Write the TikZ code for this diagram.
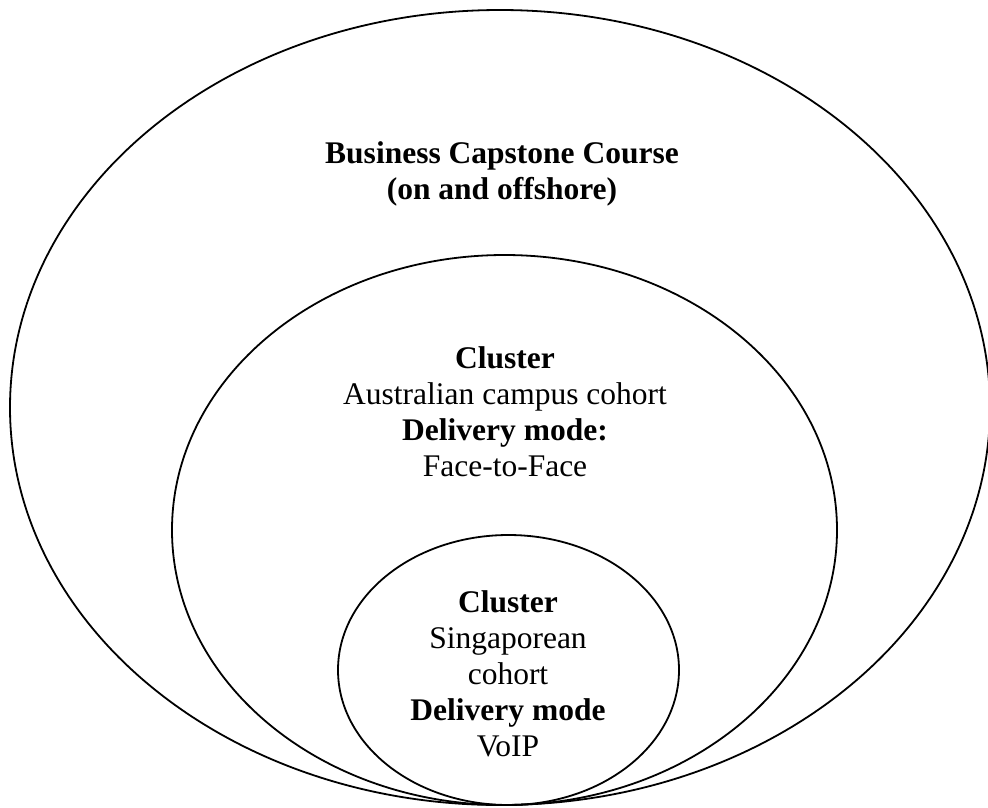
\documentclass[tikz,border=0pt]{standalone}
\usepackage{fontspec}
\setmainfont{Liberation Serif}
\begin{document}
\begin{tikzpicture}[x=1pt,y=-1pt,
  ring/.style={draw=black,line width=1.8pt},
  label/.style={align=center,font=\fontsize{31.5}{36}\selectfont,inner sep=0pt}]
\useasboundingbox (0,0) rectangle (988,807);
% three nested rings sharing a common bottom point
\draw[ring] (500,407.5) ellipse [x radius=490,y radius=397.5];
\draw[ring] (504.5,530) ellipse [x radius=332.5,y radius=275];
\draw[ring] (508.5,670) ellipse [x radius=170.5,y radius=135];
\node[label] (course) at (502,174) {\textbf{Business Capstone Course}\\\textbf{(on and offshore)}};
\node[label] (aus) at (505,412) {\textbf{Cluster}\\Australian campus cohort\\\textbf{Delivery mode:}\\Face-to-Face};
\node[label] (sg) at (508,674) {\textbf{Cluster}\\Singaporean\\cohort\\\textbf{Delivery mode}\\VoIP};
\end{tikzpicture}
\end{document}
